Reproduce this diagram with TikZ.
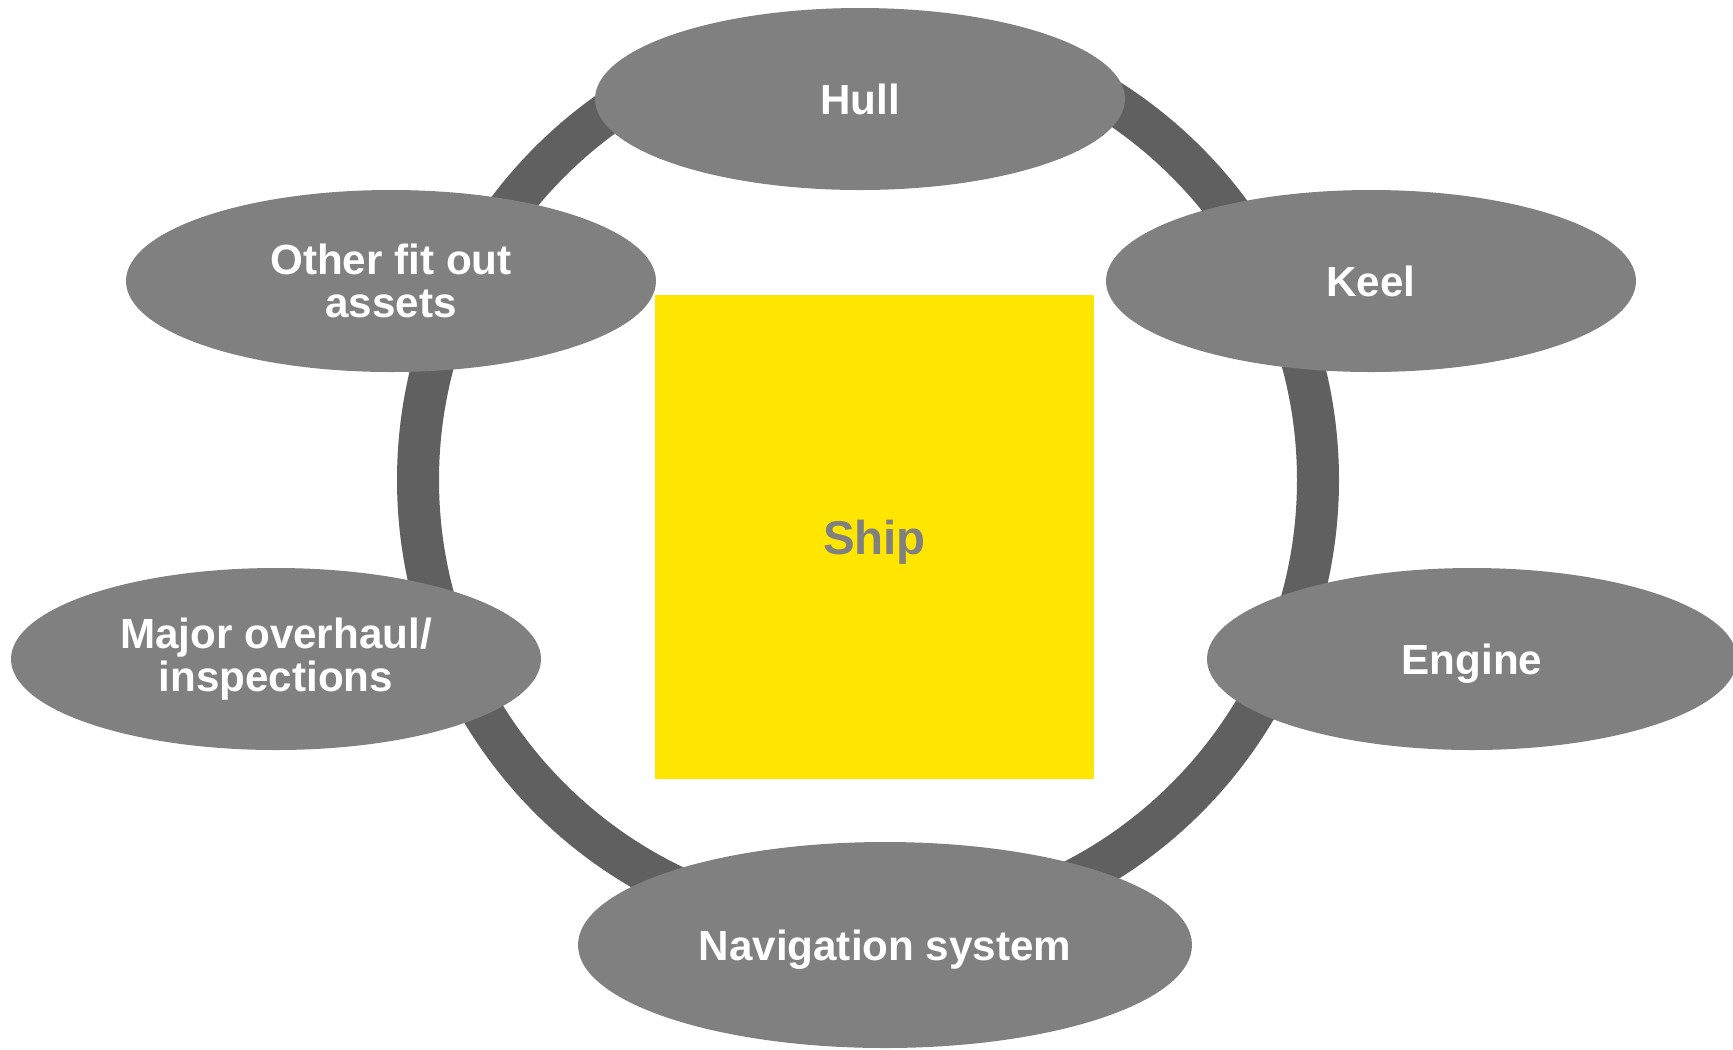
\documentclass[tikz,border=0pt]{standalone}
\usepackage{fontspec}
\setmainfont{Liberation Sans}
\usetikzlibrary{shapes.geometric}
\definecolor{bubblec}{HTML}{808080}
\definecolor{ringc}{HTML}{606060}
\definecolor{shipy}{HTML}{FFE600}
\begin{document}
\begin{tikzpicture}[x=0.1mm,y=-0.1mm,
  bubble/.style={ellipse, fill=bubblec, draw=none, inner sep=0pt,
    minimum width=53mm, minimum height=18.2mm, text=white,
    font=\bfseries\fontsize{12}{12.2}\selectfont, align=center},
  oneline/.style={text depth=0pt},
  bigbubble/.style={bubble, minimum width=61.4mm, minimum height=20.6mm},
  shipbox/.style={rectangle, fill=shipy, draw=none, inner sep=0pt,
    minimum width=43.9mm, minimum height=48.4mm, text=bubblec,
    font=\bfseries\fontsize{13.5}{14}\selectfont, text depth=0pt},
  ringline/.style={draw=ringc, line width=4.2mm}]
\useasboundingbox (0,0) rectangle (1733,1049);
\fill[white] (0,0) rectangle (1733,1049);
\coordinate (c) at (868,480);
\draw[ringline] (c) circle[radius=45mm];
\node[shipbox] (ship) at (874.5,537) {Ship};
\node[bubble, oneline] (hull) at (860,99) {Hull};
\node[bubble] (other) at (391,281) {Other fit out\\assets};
\node[bubble, oneline] (keel) at (1371,281) {Keel};
\node[bubble] (major) at (276,659) {Major overhaul/\\inspections};
\node[bubble, oneline] (engine) at (1472,659) {Engine};
\node[bigbubble, oneline] (nav) at (885,945) {Navigation system};
\end{tikzpicture}
\end{document}
